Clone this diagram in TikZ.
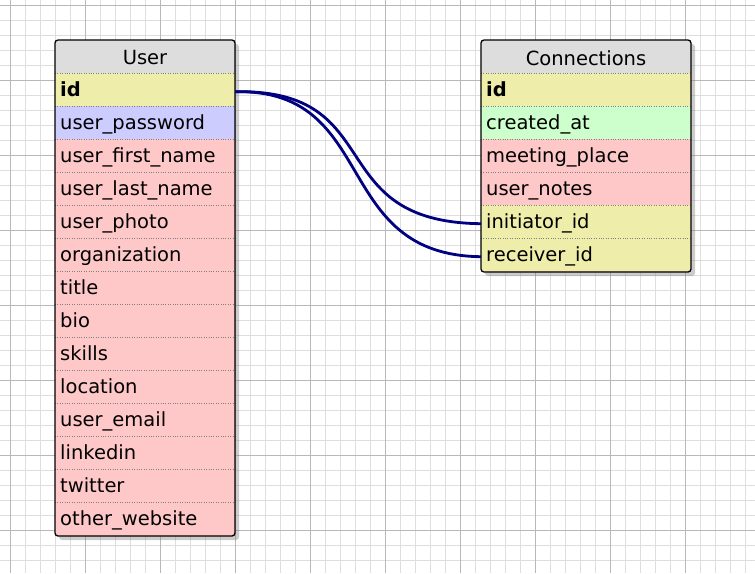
\documentclass[tikz,border=0pt]{standalone}
\usepackage{fontspec}
\setmainfont{DejaVu Sans}
\usetikzlibrary{shadows}
\definecolor{hdr}{HTML}{DDDDDD}
\definecolor{keyc}{HTML}{EEEEAA}
\definecolor{pwc}{HTML}{CCCCFF}
\definecolor{fldc}{HTML}{FFC8C8}
\definecolor{datec}{HTML}{CCFFCC}
\definecolor{linkc}{HTML}{000080}
\tikzset{
  row/.style={minimum height=33pt, inner xsep=5pt, inner ysep=0pt, anchor=north west, text height=13pt, text depth=4pt, font=\fontsize{19.5}{22}\selectfont, align=left},
  link/.style={draw=linkc, line width=2.8pt},
}
\begin{document}
\begin{tikzpicture}[x=1pt,y=-1pt]
  \useasboundingbox (0,0) rectangle (755,573);
  % grid
  \foreach \gx in {10,25,...,755} \draw[black!13] (\gx,0) -- (\gx,573);
  \foreach \gy in {5,20,...,573} \draw[black!13] (0,\gy) -- (755,\gy);
  \foreach \gx in {10,85,...,755} \draw[black!28] (\gx,0) -- (\gx,573);
  \foreach \gy in {5,80,...,573} \draw[black!28] (0,\gy) -- (755,\gy);
  % User table
  \fill[rounded corners=3pt, drop shadow={shadow xshift=4pt, shadow yshift=-4pt, opacity=0.4}, fldc] (55,40) rectangle (235,536);
  \fill[hdr, rounded corners=3pt] (55,40) rectangle (235,73);
  \node[font=\fontsize{19.5}{22}\selectfont] (user) at (145,58) {User};
  \foreach \name/\txt/\col [count=\i] in {uid/\textbf{id}/keyc, upw/user\_password/pwc, ufn/user\_first\_name/fldc,
      uln/user\_last\_name/fldc, uph/user\_photo/fldc, uorg/organization/fldc, utit/title/fldc, ubio/bio/fldc,
      uski/skills/fldc, uloc/location/fldc, uem/user\_email/fldc, ulin/linkedin/fldc, utw/twitter/fldc,
      uweb/other\_website/fldc} {
    \fill[\col] (55,40+33*\i) rectangle (235,73+33*\i);
    \draw[black!50, dotted] (55,40+33*\i) -- (235,40+33*\i);
    \node[row, text width=170pt] (\name) at (55,42+33*\i) {\txt};
  }
  \draw[line width=1.3pt, rounded corners=3pt] (55,40) rectangle (235,536);
  % Connections table
  \fill[rounded corners=3pt, drop shadow={shadow xshift=4pt, shadow yshift=-4pt, opacity=0.4}, fldc] (481,40) rectangle (691,272);
  \fill[hdr, rounded corners=3pt] (481,40) rectangle (691,73);
  \node[font=\fontsize{19.5}{22}\selectfont] (conn) at (586,58) {Connections};
  \foreach \name/\txt/\col [count=\i] in {cid/\textbf{id}/keyc, ccr/created\_at/datec, cmp/meeting\_place/fldc,
      cun/user\_notes/fldc, cini/initiator\_id/keyc, crec/receiver\_id/keyc} {
    \fill[\col] (481,40+33*\i) rectangle (691,73+33*\i);
    \draw[black!50, dotted] (481,40+33*\i) -- (691,40+33*\i);
    \node[row, text width=200pt] (\name) at (481,42+33*\i) {\txt};
  }
  \draw[line width=1.3pt, rounded corners=3pt] (481,40) rectangle (691,272);
  % relations
  \draw[link] (uid.east) .. controls (390,89) and (320,222) .. (cini.west);
  \draw[link] (uid.east) .. controls (380,89) and (330,255) .. (crec.west);
\end{tikzpicture}
\end{document}
